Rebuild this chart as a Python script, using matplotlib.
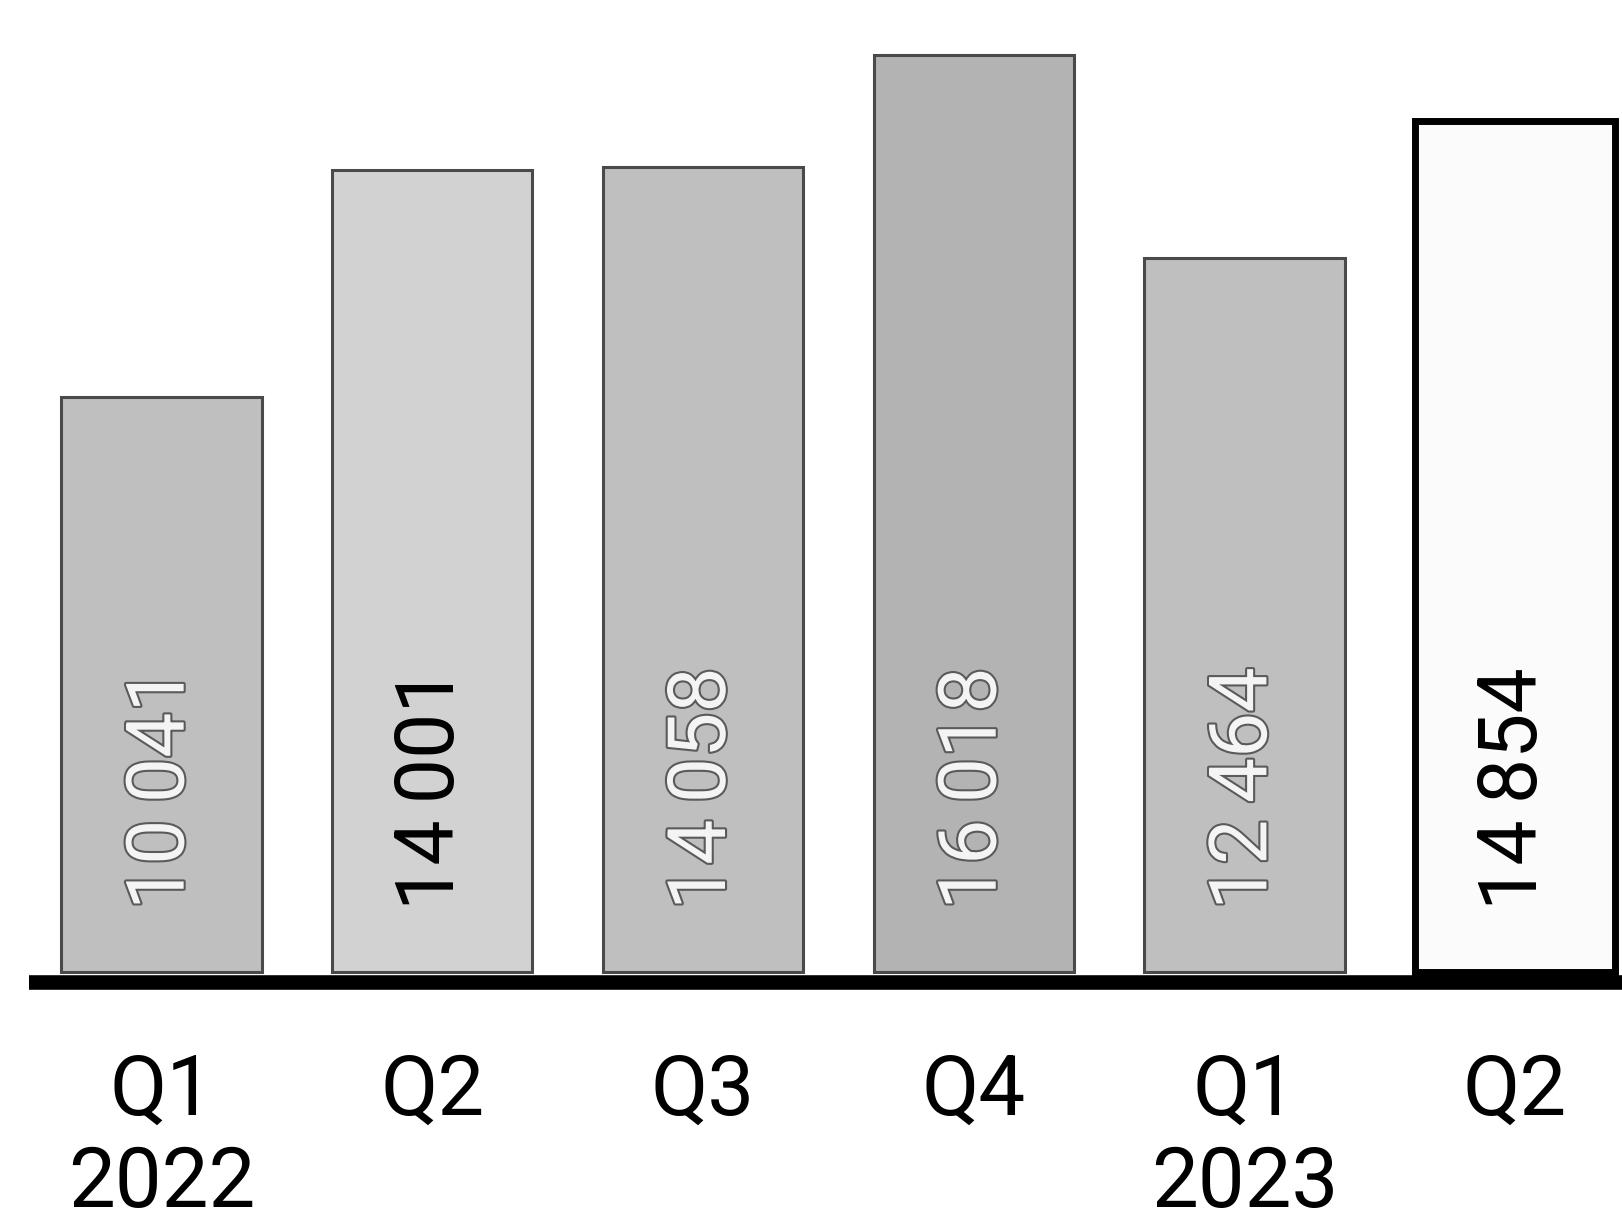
import matplotlib.pyplot as plt
import matplotlib.transforms as mtransforms
import matplotlib.patheffects as pe

plt.rcParams['font.family'] = ['Roboto', 'DejaVu Sans']

quarters = ['Q1', 'Q2', 'Q3', 'Q4', 'Q1', 'Q2']
years = ['2022', '', '', '', '2023', '']
values = [10041, 14001, 14058, 16018, 12464, 14854]
labels = ['10\u2009041', '14\u2009001', '14\u2009058', '16\u2009018', '12\u2009464', '14\u2009854']

fill = ['#bfbfbf', '#d2d2d2', '#bfbfbf', '#b3b3b3', '#bfbfbf', '#fbfbfb']
edge = ['#4a4a4a', '#4a4a4a', '#4a4a4a', '#4a4a4a', '#4a4a4a', '#000000']
edge_w = [2.2, 2.2, 2.2, 2.2, 2.2, 5.0]
text_dark = [False, True, False, False, False, True]

W, H = 1622, 1227
units_per_px = 17.46
base_px = 972          # bar baseline, pixels from top
top_px = 20
ymin = -400
ymax = (base_px - top_px) * units_per_px

fig = plt.figure(figsize=(W / 100, H / 100), dpi=100)
bottom = (H - base_px - (-ymin) / units_per_px) / H
ax = fig.add_axes([29 / W, bottom, 1 - 29 / W, (H - top_px) / H - bottom])

x = list(range(len(values)))
ax.bar(x, values, width=0.74, color=fill, edgecolor=edge, linewidth=edge_w, zorder=2)
ax.axhline(-170, color='black', linewidth=10.5, zorder=3)

for xi, lab, dark in zip(x, labels, text_dark):
    if dark:
        ax.text(xi, 1080, lab, rotation=90, ha='center', va='bottom',
                fontsize=58, color='black', zorder=4)
    else:
        ax.text(xi, 1080, lab, rotation=90, ha='center', va='bottom',
                fontsize=58, color='#f4f4f4', zorder=4,
                path_effects=[pe.withStroke(linewidth=3, foreground='#5a5a5a')])

ax.set_xlim(-0.49, 5.395)
ax.set_ylim(ymin, ymax)
ax.axis('off')

# category labels under the baseline
tr = mtransforms.blended_transform_factory(ax.transData, fig.transFigure)
for xi, q, yr in zip(x, quarters, years):
    ax.text(xi, (H - 1115) / H, q, transform=tr, ha='center', va='baseline',
            fontsize=60, color='black', clip_on=False)
    if yr:
        ax.text(xi, (H - 1207) / H, yr, transform=tr, ha='center', va='baseline',
                fontsize=60, color='black', clip_on=False)

fig.savefig('out.png', dpi=100)
